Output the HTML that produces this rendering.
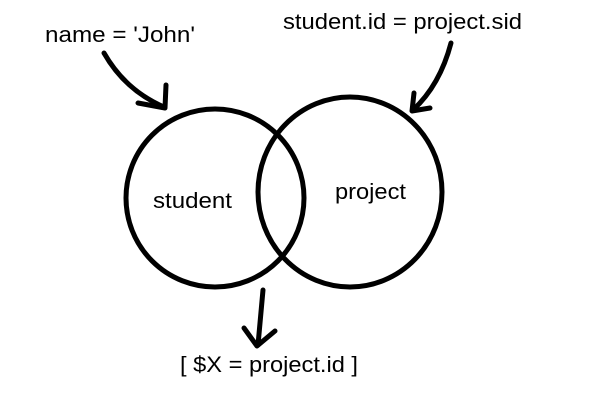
<!DOCTYPE html>
<html><head><style>body{margin:0;background:#fff}svg{display:block}text{font-family:"Liberation Sans",sans-serif;font-size:22px;fill:#000}</style></head>
<body>
<svg width="600" height="400" viewBox="0 0 600 400">
<g fill="none" stroke="#000" stroke-width="5" stroke-linecap="round" stroke-linejoin="round">
<ellipse cx="215" cy="198" rx="89" ry="89"/>
<ellipse cx="350" cy="192" rx="92" ry="95"/>
<path d="M104 53 Q125 90 164 107"/>
<path d="M166 85 L165 108 L138 103"/>
<path d="M451 43 Q440 85 413 110"/>
<path d="M414 93 L412 111 L430 108"/>
<path d="M263 290 L258 345"/>
<path d="M244 328 L257 346 L275 331"/>
</g>
<text x="45" y="42" textLength="150" lengthAdjust="spacingAndGlyphs">name = 'John'</text>
<text x="283" y="29" textLength="239" lengthAdjust="spacingAndGlyphs">student.id = project.sid</text>
<text x="153" y="208" textLength="79" lengthAdjust="spacingAndGlyphs">student</text>
<text x="335" y="199" textLength="71" lengthAdjust="spacingAndGlyphs">project</text>
<text x="180" y="372" textLength="178" lengthAdjust="spacingAndGlyphs">[ $X = project.id ]</text>
</svg>
</body></html>
